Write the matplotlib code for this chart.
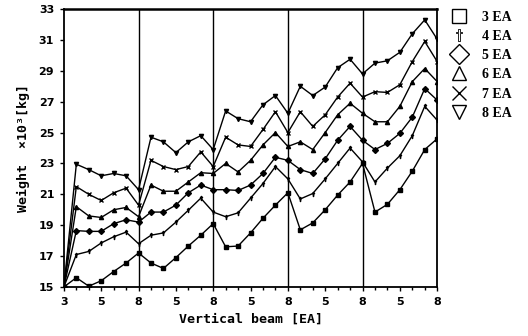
import numpy as np
import matplotlib
matplotlib.use('Agg')
import matplotlib.pyplot as plt
from matplotlib.lines import Line2D

# beam index positions (5 groups of 3..8 vertical beams)
x = np.arange(31)
tick_pos = list(range(0, 31, 3))
tick_labels = ['3', '5', '8', '5', '8', '5', '8', '5', '8', '5', '8']

# weight x10^3 kg
w3 = [15.0, 15.6, 15.05, 15.4, 16.0, 16.55, 17.2,
      16.55, 16.2, 16.9, 17.65, 18.35, 19.1,
      17.6, 17.65, 18.5, 19.45, 20.3, 21.1,
      18.7, 19.15, 20.0, 20.95, 21.8, 23.0,
      19.85, 20.35, 21.3, 22.5, 23.9, 24.6]
w4 = [15.0, 17.1, 17.3, 17.85, 18.25, 18.55, 17.8,
      18.35, 18.5, 19.2, 19.97, 20.75, 19.85,
      19.55, 19.8, 20.75, 21.7, 22.8, 22.0,
      20.7, 21.05, 22.0, 23.0, 24.0, 23.1,
      21.8, 22.7, 23.5, 24.8, 26.7, 25.8]
w5 = [15.0, 18.65, 18.6, 18.6, 19.1, 19.35, 19.2,
      19.85, 19.85, 20.3, 21.1, 21.6, 21.3,
      21.3, 21.25, 21.6, 22.35, 23.4, 23.2,
      22.6, 22.35, 23.3, 24.5, 25.4, 24.5,
      23.9, 24.3, 24.95, 26.0, 27.85, 27.1]
w6 = [15.0, 20.2, 19.6, 19.5, 20.0, 20.15, 19.55,
      21.6, 21.2, 21.2, 21.8, 22.4, 22.35,
      23.0, 22.45, 23.2, 24.2, 25.0, 24.1,
      24.4, 23.9, 25.0, 26.15, 26.9, 26.25,
      25.7, 25.7, 26.7, 28.3, 29.15, 28.3]
w7 = [15.0, 21.5, 21.0, 20.6, 21.1, 21.4, 20.3,
      23.2, 22.8, 22.6, 22.8, 23.75, 22.8,
      24.7, 24.2, 24.1, 25.2, 26.35, 25.0,
      26.35, 25.4, 26.15, 27.3, 28.2, 27.3,
      27.65, 27.6, 28.1, 29.6, 30.9, 29.6]
w8 = [15.0, 22.95, 22.6, 22.2, 22.35, 22.2, 21.3,
      24.7, 24.4, 23.7, 24.4, 24.8, 23.9,
      26.4, 25.9, 25.7, 26.8, 27.4, 26.25,
      28.0, 27.4, 27.95, 29.2, 29.75, 28.8,
      29.5, 29.65, 30.2, 31.4, 32.3, 31.05]

series = [w3, w4, w5, w6, w7, w8]
names = ['3 EA', '4 EA', '5 EA', '6 EA', '7 EA', '8 EA']
marks = ['s', r'$\dagger$', 'D', '^', 'x', 'v']

fig = plt.figure(figsize=(5.28, 3.36), dpi=100)
ax = fig.add_axes([0.121, 0.146, 0.707, 0.827])

for vals, m in zip(series, marks):
    ax.plot(x, vals, color='black', lw=1.0, marker=m, markersize=3,
            markerfacecolor='black', markeredgecolor='black')

for xv in [6, 12, 18, 24]:
    ax.axvline(xv, color='black', lw=1.0)

ax.set_xlim(0, 30)
ax.set_ylim(15, 33)
ax.set_xticks(tick_pos)
ax.set_xticklabels(tick_labels)
ax.set_xticks(x, minor=True)
ax.set_yticks(np.arange(15, 34, 2))
ax.tick_params(axis='both', which='major', direction='out', length=3,
               width=1, labelsize=8, pad=4)
ax.tick_params(axis='x', which='minor', direction='out', length=2, width=1)
for lab in ax.get_xticklabels() + ax.get_yticklabels():
    lab.set_fontweight('bold')
    lab.set_family('DejaVu Sans')
for s in ax.spines.values():
    s.set_linewidth(1.3)
ax.spines['top'].set_linewidth(1.8)

ax.set_xlabel('Vertical beam [EA]', family='DejaVu Sans Mono',
              fontweight='bold', fontsize=9.5, labelpad=4)
ax.set_ylabel('Weight  ×10³[kg]', family='DejaVu Sans Mono',
              fontweight='bold', fontsize=9.5, labelpad=6)

handles = [Line2D([], [], linestyle='none', marker=m, markersize=10 if m != r'$\dagger$' else 9,
                  markerfacecolor='none', markeredgecolor='black',
                  markeredgewidth=1.0 if m != r'$\dagger$' else 0.6, color='black')
           for m in marks]
leg = fig.legend(handles, names, loc='upper left', bbox_to_anchor=(0.845, 0.985),
                 frameon=False, handlelength=1.0, handletextpad=1.2,
                 labelspacing=0.45, borderaxespad=0,
                 prop={'family': 'Liberation Serif', 'weight': 'bold', 'size': 10})

fig.savefig('out.png', dpi=100)
